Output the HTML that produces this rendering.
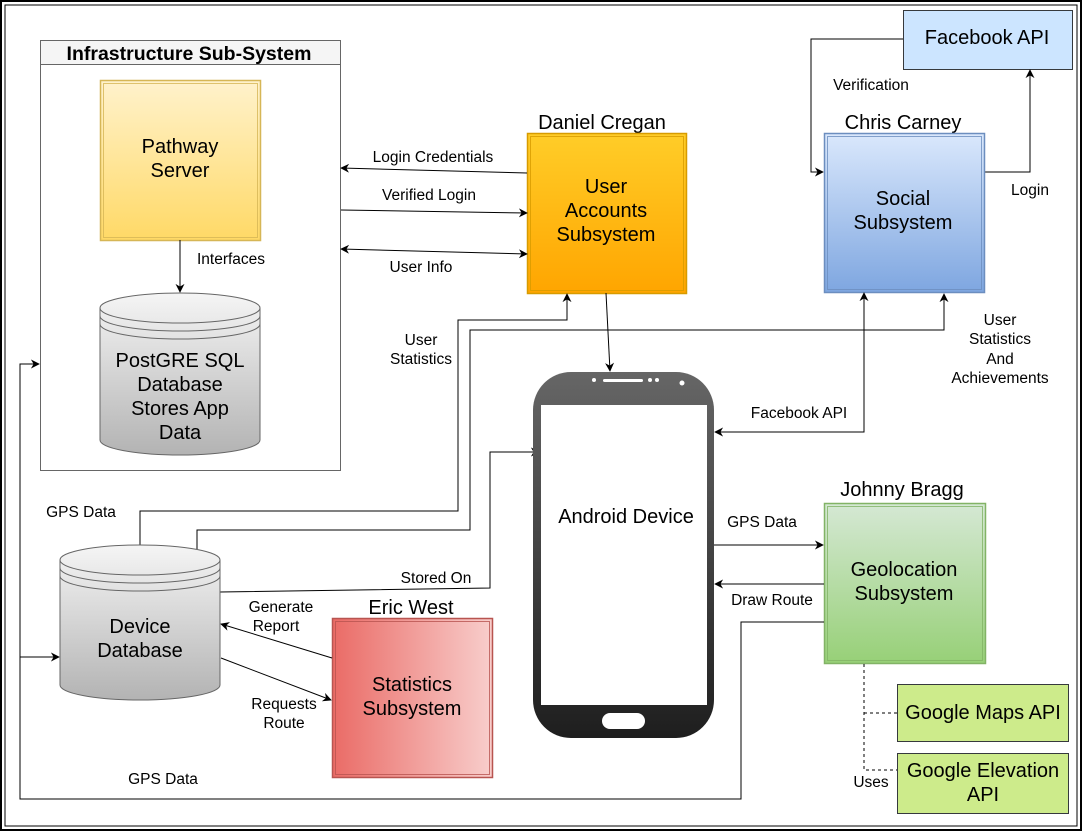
<!DOCTYPE html>
<html><head><meta charset="utf-8"><style>
html,body{margin:0;padding:0;background:#fff;}
svg{display:block;font-family:"Liberation Sans",Arial,sans-serif;}
.s{font-size:15.5px;}
.b{font-size:20px;}
</style></head><body>
<svg width="1082" height="831" viewBox="0 0 1082 831" xmlns="http://www.w3.org/2000/svg">
<defs>
<marker id="a" viewBox="0 0 10 10" refX="9" refY="5" markerWidth="9" markerHeight="9" orient="auto-start-reverse" markerUnits="userSpaceOnUse"><path d="M0,0 L10,5 L0,10 L3,5 Z" fill="#000"/></marker>
<linearGradient id="gy" x1="0" y1="0" x2="0" y2="1"><stop offset="0" stop-color="#fff2cc"/><stop offset="1" stop-color="#ffd966"/></linearGradient>
<linearGradient id="go" x1="0" y1="0" x2="0" y2="1"><stop offset="0" stop-color="#ffcd28"/><stop offset="1" stop-color="#ffa500"/></linearGradient>
<linearGradient id="gb" x1="0" y1="0" x2="0" y2="1"><stop offset="0" stop-color="#dae8fc"/><stop offset="1" stop-color="#7ea6e0"/></linearGradient>
<linearGradient id="gg" x1="0" y1="0" x2="0" y2="1"><stop offset="0" stop-color="#d5e8d4"/><stop offset="1" stop-color="#97d077"/></linearGradient>
<linearGradient id="gr" x1="0" y1="0" x2="1" y2="0"><stop offset="0" stop-color="#ea6b66"/><stop offset="1" stop-color="#f8cecc"/></linearGradient>
<linearGradient id="gc" x1="0" y1="0" x2="0" y2="1"><stop offset="0" stop-color="#f5f5f5"/><stop offset="1" stop-color="#b3b3b3"/></linearGradient>
<linearGradient id="gp" x1="0" y1="0" x2="0" y2="1"><stop offset="0" stop-color="#666"/><stop offset="1" stop-color="#1e1e1e"/></linearGradient>
</defs>
<rect x="1" y="1" width="1080" height="829" fill="#fff" stroke="#000" stroke-width="2"/>
<rect x="5" y="5" width="1072" height="821" fill="none" stroke="#000" stroke-width="1"/>

<rect x="40.5" y="40.5" width="300" height="430" fill="#fff" stroke="#666"/>
<rect x="40.5" y="40.5" width="300" height="24" fill="#f5f5f5" stroke="#666"/>
<text x="189" y="60" font-size="19.5" font-weight="bold" text-anchor="middle">Infrastructure Sub-System</text>
<rect x="100.5" y="80.5" width="160" height="160" fill="url(#gy)" stroke="#d6b656" stroke-width="1.5"/>
<rect x="103.5" y="83.5" width="154" height="154" fill="none" stroke="#d6b656" stroke-width="0.8"/>
<text class="b" x="180" y="153" text-anchor="middle">Pathway</text>
<text class="b" x="180" y="177" text-anchor="middle">Server</text>
<line x1="180" y1="240" x2="180" y2="292" stroke="#000" marker-end="url(#a)"/>
<text class="s" x="231" y="264" text-anchor="middle">Interfaces</text>
<path d="M100,308 A80,15 0 0 1 260,308 L260,440 A80,15 0 0 1 100,440 Z" fill="url(#gc)" stroke="#666"/>
<path d="M100,308 A80,15 0 0 0 260,308 M100,316 A80,15 0 0 0 260,316 M100,324 A80,15 0 0 0 260,324" fill="none" stroke="#666"/>
<text class="b" x="180" y="367" text-anchor="middle">PostGRE SQL</text>
<text class="b" x="180" y="391" text-anchor="middle">Database</text>
<text class="b" x="180" y="415" text-anchor="middle">Stores App</text>
<text class="b" x="180" y="439" text-anchor="middle">Data</text>

<text class="b" x="602" y="129" text-anchor="middle">Daniel Cregan</text>
<rect x="527.5" y="133.5" width="159" height="160" fill="url(#go)" stroke="#d79b00" stroke-width="1.5"/>
<rect x="530.5" y="136.5" width="153" height="154" fill="none" stroke="#d79b00" stroke-width="0.8"/>
<text class="b" x="606" y="193" text-anchor="middle">User</text>
<text class="b" x="606" y="217" text-anchor="middle">Accounts</text>
<text class="b" x="606" y="241" text-anchor="middle">Subsystem</text>
<line x1="527" y1="173" x2="341" y2="168" stroke="#000" marker-end="url(#a)"/>
<text class="s" x="433" y="162" text-anchor="middle">Login Credentials</text>
<line x1="341" y1="210" x2="527" y2="213" stroke="#000" marker-end="url(#a)"/>
<text class="s" x="429" y="200" text-anchor="middle">Verified Login</text>
<line x1="341" y1="249" x2="527" y2="254" stroke="#000" marker-start="url(#a)" marker-end="url(#a)"/>
<text class="s" x="421" y="272" text-anchor="middle">User Info</text>
<line x1="606" y1="293" x2="610" y2="371" stroke="#000" marker-end="url(#a)"/>

<rect x="903.5" y="10.5" width="169" height="59" fill="#cce5ff" stroke="#36393d"/>
<text class="b" x="987" y="44" text-anchor="middle">Facebook API</text>
<polyline points="903,39 811,39 811,172 823,172" fill="none" stroke="#000" marker-end="url(#a)"/>
<text class="s" x="871" y="90" text-anchor="middle">Verification</text>
<polyline points="984,172 1030,172 1030,70" fill="none" stroke="#000" marker-end="url(#a)"/>
<text class="s" x="1030" y="195" text-anchor="middle">Login</text>

<text class="b" x="903" y="129" text-anchor="middle">Chris Carney</text>
<rect x="824.5" y="133.5" width="160" height="159" fill="url(#gb)" stroke="#6c8ebf" stroke-width="1.5"/>
<rect x="827.5" y="136.5" width="154" height="153" fill="none" stroke="#6c8ebf" stroke-width="0.8"/>
<text class="b" x="903" y="205" text-anchor="middle">Social</text>
<text class="b" x="903" y="229" text-anchor="middle">Subsystem</text>
<polyline points="864,293 864,432 715,432" fill="none" stroke="#000" marker-start="url(#a)" marker-end="url(#a)"/>
<text class="s" x="799" y="418" text-anchor="middle">Facebook API</text>
<text class="s" x="1000" y="325" text-anchor="middle">User</text>
<text class="s" x="1000" y="344" text-anchor="middle">Statistics</text>
<text class="s" x="1000" y="364" text-anchor="middle">And</text>
<text class="s" x="1000" y="383" text-anchor="middle">Achievements</text>

<polyline points="140,545 140,511 458,511 458,320 567,320 567,294" fill="none" stroke="#000" marker-end="url(#a)"/>
<text class="s" x="421" y="345" text-anchor="middle">User</text>
<text class="s" x="421" y="364" text-anchor="middle">Statistics</text>
<polyline points="197,549 197,530 470,530 470,330 944,330 944,294" fill="none" stroke="#000" marker-end="url(#a)"/>
<polyline points="220,592 490,588 490,452 539,452" fill="none" stroke="#000" marker-end="url(#a)"/>
<text class="s" x="436" y="583" text-anchor="middle">Stored On</text>
<text class="s" x="81" y="517" text-anchor="middle">GPS Data</text>

<rect x="533" y="372" width="181" height="366" rx="38" fill="url(#gp)"/>
<rect x="541" y="405" width="166" height="300" fill="#fff"/>
<rect x="602" y="713" width="43" height="16" rx="8" fill="#fff"/>
<rect x="603" y="379" width="40" height="3" rx="1.5" fill="#fff"/>
<circle cx="594" cy="380" r="2" fill="#fff"/>
<circle cx="650" cy="380" r="2" fill="#fff"/>
<circle cx="657" cy="380" r="2" fill="#fff"/>
<circle cx="682" cy="383" r="2.5" fill="#fff"/>
<text class="b" x="626" y="523" text-anchor="middle">Android Device</text>

<text class="b" x="902" y="496" text-anchor="middle">Johnny Bragg</text>
<rect x="824.5" y="503.5" width="161" height="160" fill="url(#gg)" stroke="#82b366" stroke-width="1.5"/>
<rect x="827.5" y="506.5" width="155" height="154" fill="none" stroke="#82b366" stroke-width="0.8"/>
<text class="b" x="904" y="576" text-anchor="middle">Geolocation</text>
<text class="b" x="904" y="600" text-anchor="middle">Subsystem</text>
<line x1="714" y1="545" x2="823" y2="545" stroke="#000" marker-end="url(#a)"/>
<text class="s" x="762" y="527" text-anchor="middle">GPS Data</text>
<line x1="824" y1="584" x2="715" y2="584" stroke="#000" marker-end="url(#a)"/>
<text class="s" x="772" y="605" text-anchor="middle">Draw Route</text>
<polyline points="824,622 741,622 741,799 20,799 20,657 59,657" fill="none" stroke="#000" marker-end="url(#a)"/>
<polyline points="20,657 20,364 39,364" fill="none" stroke="#000" marker-end="url(#a)"/>
<text class="s" x="163" y="784" text-anchor="middle">GPS Data</text>

<rect x="897.5" y="684.5" width="171" height="57" fill="#cdeb8b" stroke="#36393d"/>
<text class="b" x="983" y="719" text-anchor="middle">Google Maps API</text>
<rect x="897.5" y="753.5" width="171" height="60" fill="#cdeb8b" stroke="#36393d"/>
<text class="b" x="983" y="777" text-anchor="middle">Google Elevation</text>
<text class="b" x="983" y="801" text-anchor="middle">API</text>
<polyline points="864,664 864,770 897,770" fill="none" stroke="#000" stroke-dasharray="3,3"/>
<line x1="864" y1="713" x2="897" y2="713" stroke="#000" stroke-dasharray="3,3"/>
<text class="s" x="871" y="787" text-anchor="middle">Uses</text>

<path d="M60,560 A80,15 0 0 1 220,560 L220,685 A80,15 0 0 1 60,685 Z" fill="url(#gc)" stroke="#666"/>
<path d="M60,560 A80,15 0 0 0 220,560 M60,568 A80,15 0 0 0 220,568 M60,576 A80,15 0 0 0 220,576" fill="none" stroke="#666"/>
<text class="b" x="140" y="633" text-anchor="middle">Device</text>
<text class="b" x="140" y="657" text-anchor="middle">Database</text>

<text class="b" x="411" y="614" text-anchor="middle">Eric West</text>
<rect x="332.5" y="618.5" width="160" height="159" fill="url(#gr)" stroke="#b85450" stroke-width="1.5"/>
<rect x="335.5" y="621.5" width="154" height="153" fill="none" stroke="#b85450" stroke-width="0.8"/>
<text class="b" x="412" y="691" text-anchor="middle">Statistics</text>
<text class="b" x="412" y="715" text-anchor="middle">Subsystem</text>
<line x1="332" y1="658" x2="221" y2="624" stroke="#000" marker-end="url(#a)"/>
<text class="s" x="281" y="612" text-anchor="middle">Generate</text>
<text class="s" x="276" y="631" text-anchor="middle">Report</text>
<line x1="221" y1="658" x2="331" y2="700" stroke="#000" marker-end="url(#a)"/>
<text class="s" x="284" y="709" text-anchor="middle">Requests</text>
<text class="s" x="284" y="728" text-anchor="middle">Route</text>
</svg>
</body></html>
